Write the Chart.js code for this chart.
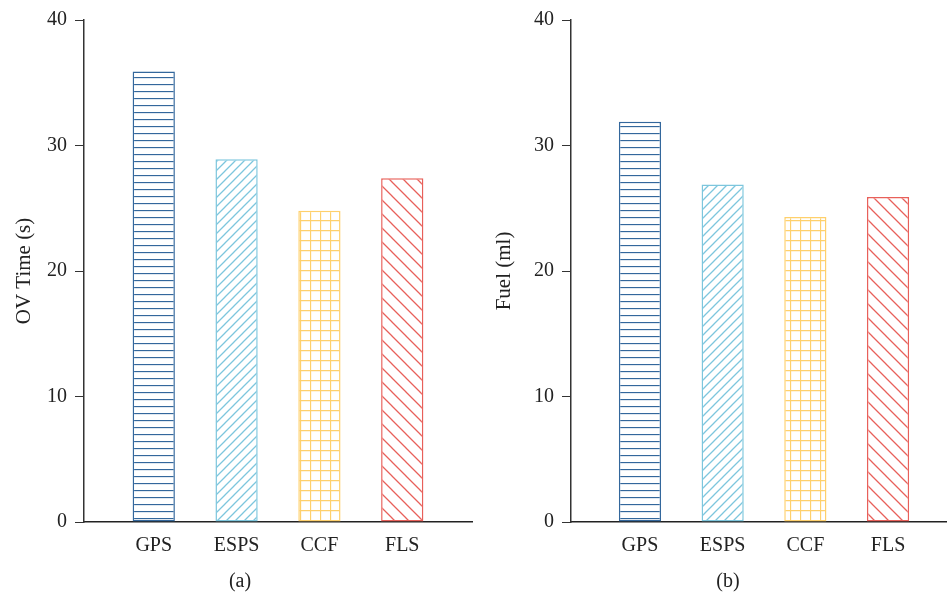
<!DOCTYPE html>
<html>
<head>
<meta charset="utf-8">
<script src="https://cdn.jsdelivr.net/npm/chart.js@4.4.1/dist/chart.umd.min.js"></script>
<style>
  body { margin: 0; background: #fff; width: 947px; height: 597px; overflow: hidden; position: relative; }
  canvas { position: absolute; top: 0; }
  .cap { position: absolute; top: 568px; width: 200px; text-align: center; font: 20px 'Liberation Serif', serif; line-height: 24px; color: #222; }
</style>
</head>
<body>
<canvas id="ov" width="480" height="597" style="left:0"></canvas>
<canvas id="fuel" width="467" height="597" style="left:480px"></canvas>
<div class="cap" style="left:140px">(a)</div>
<div class="cap" style="left:628px">(b)</div>
<script>
const categories = ['GPS', 'ESPS', 'CCF', 'FLS'];
const ovTime = [35.9, 28.9, 24.8, 27.4];
const fuel = [31.9, 26.9, 24.3, 25.9];
const yMin = 0, yMax = 40, yStep = 10;

const colors = ['#33679c', '#7dc6dd', '#fed06c', '#e8605a'];

// hatch fills, one per method
function hatch(kind, color) {
    const c = document.createElement('canvas');
    const g = c.getContext('2d');
    let s = 9;
    if (kind === 'h') s = 7;
    if (kind === 'grid') s = 10;
    if (kind === 'back') s = 14;
    c.width = s; c.height = s;
    g.fillStyle = '#fff';
    g.fillRect(0, 0, s, s);
    g.strokeStyle = color;
    g.lineWidth = 1.3;
    g.beginPath();
    if (kind === 'h') {
        g.moveTo(0, 0.5); g.lineTo(s, 0.5);
    } else if (kind === 'grid') {
        g.moveTo(0, 0.5); g.lineTo(s, 0.5);
        g.moveTo(0.5, 0); g.lineTo(0.5, s);
    } else if (kind === 'fwd') {
        g.moveTo(-1, s + 1); g.lineTo(s + 1, -1);
        g.moveTo(-1, 1); g.lineTo(1, -1);
        g.moveTo(s - 1, s + 1); g.lineTo(s + 1, s - 1);
    } else {
        g.moveTo(-1, -1); g.lineTo(s + 1, s + 1);
        g.moveTo(s - 1, -1); g.lineTo(s + 1, 1);
        g.moveTo(-1, s - 1); g.lineTo(1, s + 1);
    }
    g.stroke();
    return g.createPattern(c, 'repeat');
}

const fills = [hatch('h', colors[0]), hatch('fwd', colors[1]), hatch('grid', colors[2]), hatch('back', colors[3])];

function makeChart(id, values, yTitle, yWidth, xMin, xMax, padRight) {
    return new Chart(document.getElementById(id), {
        type: 'bar',
        data: {
            datasets: [{
                data: values.map((v, i) => ({ x: i, y: v })),
                backgroundColor: fills,
                borderColor: colors,
                borderWidth: 1.5,
                borderSkipped: false,
                barPercentage: 1,
                categoryPercentage: 0.51
            }]
        },
        options: {
            responsive: false,
            animation: false,
            layout: { padding: { top: 19, right: padRight, left: 0, bottom: 0 } },
            plugins: { legend: { display: false }, tooltip: { enabled: false } },
            scales: {
                x: {
                    type: 'linear',
                    offset: false,
                    min: xMin,
                    max: xMax,
                    afterBuildTicks: axis => { axis.ticks = categories.map((c, i) => ({ value: i })); },
                    afterFit: axis => { axis.height = 75; },
                    grid: { display: false, drawTicks: false },
                    border: { display: true, color: '#222', width: 1.5 },
                    ticks: {
                        autoSkip: false,
                        maxRotation: 0,
                        padding: 12,
                        color: '#222',
                        font: { family: 'Liberation Serif', size: 20 },
                        callback: v => categories[v] ?? ''
                    }
                },
                y: {
                    min: yMin,
                    max: yMax,
                    afterFit: axis => { axis.width = yWidth; },
                    grid: { drawOnChartArea: false, drawTicks: true, tickLength: 9, color: '#333', lineWidth: 1 },
                    border: { display: true, color: '#333', width: 1.5 },
                    ticks: {
                        stepSize: yStep,
                        padding: 8,
                        color: '#222',
                        font: { family: 'Liberation Serif', size: 20 }
                    },
                    title: {
                        display: true,
                        text: yTitle,
                        color: '#222',
                        padding: { top: 12, bottom: 0 },
                        font: { family: 'Liberation Serif', size: 21 }
                    }
                }
            }
        }
    });
}

makeChart('ov', ovTime, 'OV Time (s)', 84, -0.842, 3.842, 8);
makeChart('fuel', fuel, 'Fuel (ml)', 91, -0.834, 3.713, 0);
</script>
</body>
</html>
